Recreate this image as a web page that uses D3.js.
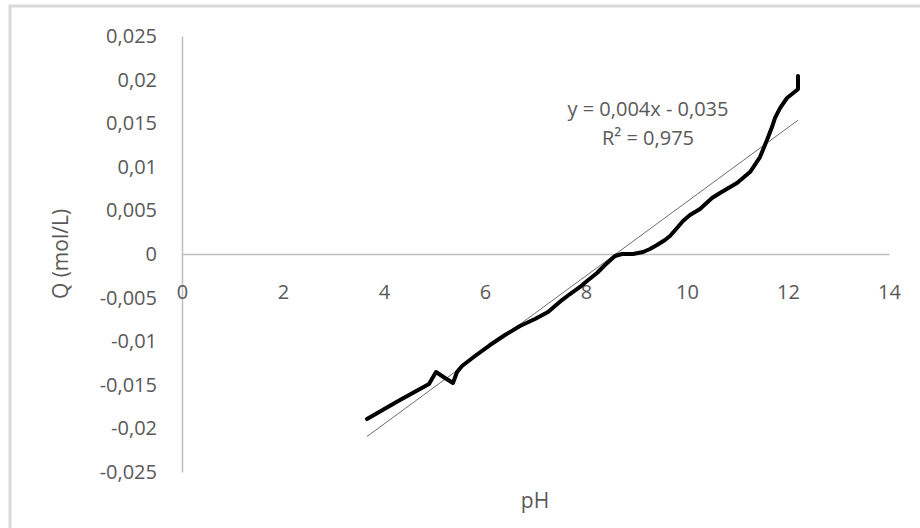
<!DOCTYPE html>
<html>
<head>
<meta charset="utf-8">
<script src="https://cdn.jsdelivr.net/npm/d3@7"></script>
<style>
  html, body { margin: 0; padding: 0; background: #fff; }
  svg { display: block; }
</style>
</head>
<body>
<svg id="chart" width="920" height="528"></svg>
<script>
// ---- data ----
const pH = [3.663, 4.317, 4.891, 5.030, 5.208, 5.366, 5.446, 5.545, 5.802, 6.099,
  6.396, 6.693, 6.990, 7.248, 7.386, 7.525, 7.683, 7.881, 8.020, 8.218,
  8.376, 8.574, 8.713, 8.931, 9.129, 9.267, 9.406, 9.564, 9.663, 9.802,
  9.921, 10.059, 10.257, 10.495, 10.653, 10.990, 11.248, 11.446, 11.584, 11.683,
  11.743, 11.842, 11.980, 12.178, 12.198, 12.198];
const Q = [-0.01892, -0.01674, -0.01491, -0.01353, -0.01422, -0.01479, -0.01353, -0.01284, -0.01170, -0.01044,
  -0.00929, -0.00826, -0.00745, -0.00665, -0.00596, -0.00528, -0.00459, -0.00378, -0.00310, -0.00218,
  -0.00126, -0.00023, 0.00000, 0.00000, 0.00023, 0.00057, 0.00103, 0.00161, 0.00206, 0.00298,
  0.00378, 0.00447, 0.00516, 0.00642, 0.00700, 0.00814, 0.00940, 0.01112, 0.01307, 0.01456,
  0.01560, 0.01674, 0.01789, 0.01881, 0.01892, 0.02041];
const xTicks = [0, 2, 4, 6, 8, 10, 12, 14];
const yTicks = [-0.025, -0.02, -0.015, -0.01, -0.005, 0, 0.005, 0.01, 0.015, 0.02, 0.025];
const trendSlope = 0.00425;
const trendIntercept = -0.0365;
const equationLines = ["y = 0,004x - 0,035", "R\u00B2 = 0,975"];
const xTitle = "pH";
const yTitle = "Q (mol/L)";

// ---- drawing ----
const svg = d3.select("#chart");
const font = "'Open Sans', 'Noto Sans', sans-serif";
const textColor = "#595959";
const axisColor = "#bfbfbf";

// outer chart border (top & left visible)
svg.append("rect")
  .attr("x", 10).attr("y", 6).attr("width", 930).attr("height", 540)
  .attr("fill", "none").attr("stroke", "#d9d9d9").attr("stroke-width", 3);

const x = d3.scaleLinear().domain([0, 14]).range([182, 889]);
const y = d3.scaleLinear().domain([-0.025, 0.025]).range([472, 36]);
const fmt = v => String(+v.toFixed(3)).replace(".", ",");

// Y axis
const gy = svg.append("g")
  .attr("transform", `translate(${x(0)},0)`)
  .call(d3.axisLeft(y).tickValues(yTicks).tickSize(0).tickPadding(25).tickFormat(fmt));
gy.select(".domain").attr("stroke", axisColor).attr("stroke-width", 1.5);
gy.selectAll("text").attr("fill", textColor).style("font-family", font).style("font-size", "20px");

// X axis (at y = 0)
const gx = svg.append("g")
  .attr("transform", `translate(0,${y(0)})`)
  .call(d3.axisBottom(x).tickValues(xTicks).tickSize(0).tickPadding(31).tickFormat(d => String(d)));
gx.select(".domain").attr("stroke", axisColor).attr("stroke-width", 1.5);
gx.selectAll("text").attr("fill", textColor).style("font-family", font).style("font-size", "20px");

// trendline
const xMin = d3.min(pH), xMax = d3.max(pH);
svg.append("line")
  .attr("x1", x(xMin)).attr("y1", y(trendSlope * xMin + trendIntercept))
  .attr("x2", x(xMax)).attr("y2", y(trendSlope * xMax + trendIntercept))
  .attr("stroke", "#6d6d6d").attr("stroke-width", 1);

// data curve
const data = pH.map((p, i) => [p, Q[i]]);
svg.append("path")
  .datum(data)
  .attr("fill", "none")
  .attr("stroke", "#000")
  .attr("stroke-width", 4)
  .attr("stroke-linejoin", "round")
  .attr("stroke-linecap", "round")
  .attr("d", d3.line().x(d => x(d[0])).y(d => y(d[1])));

// equation label
svg.append("text")
  .attr("x", 648).attr("y", 116)
  .attr("text-anchor", "middle")
  .attr("fill", textColor).style("font-family", font).style("font-size", "20px")
  .text(equationLines[0]);
svg.append("text")
  .attr("x", 648).attr("y", 145)
  .attr("text-anchor", "middle")
  .attr("fill", textColor).style("font-family", font).style("font-size", "20px")
  .text(equationLines[1]);

// axis titles
svg.append("text")
  .attr("transform", `translate(68,${y(0)}) rotate(-90)`)
  .attr("text-anchor", "middle")
  .attr("fill", textColor).style("font-family", font).style("font-size", "21px")
  .text(yTitle);
svg.append("text")
  .attr("x", 535).attr("y", 508)
  .attr("text-anchor", "middle")
  .attr("fill", textColor).style("font-family", font).style("font-size", "21px")
  .text(xTitle);
</script>
</body>
</html>
